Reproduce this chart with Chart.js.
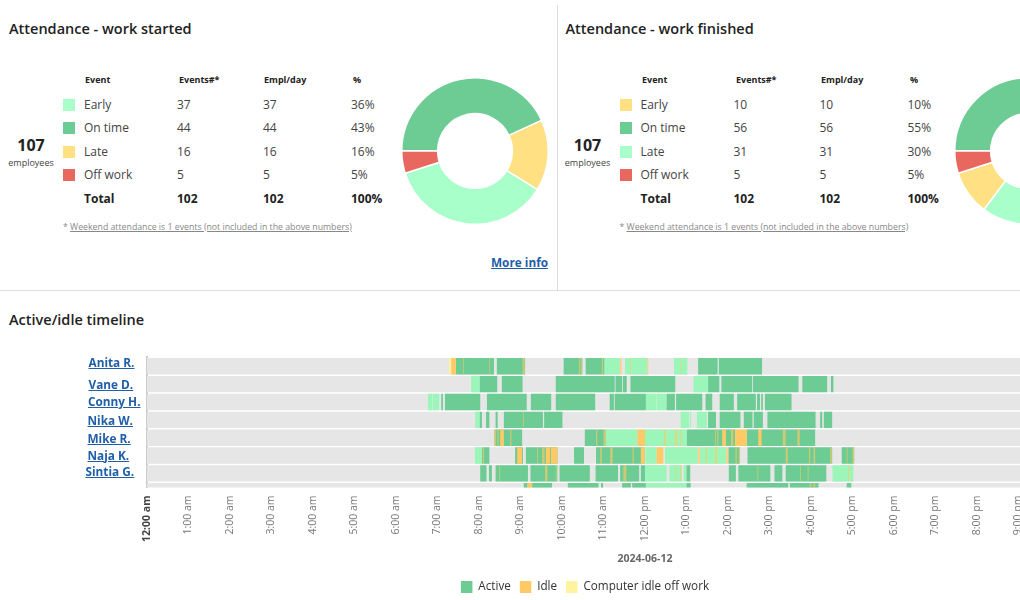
<!DOCTYPE html>
<html>
<head>
<meta charset="utf-8">
<script src="https://cdn.jsdelivr.net/npm/chart.js@4"></script>
<style>
  html, body { margin: 0; width: 1020px; height: 600px; overflow: hidden; background: #fff; font-family: "Open Sans", sans-serif; color: #333; }
  .panel span, .panel i { position: absolute; white-space: nowrap; }
  h2 { position: absolute; margin: 0; font-size: 14.5px; line-height: 20px; font-weight: 600; color: #222; }
  .panel { position: absolute; top: 0; width: 556px; height: 290px; }
  .panel .head { font-size: 9px; font-weight: 700; line-height: 12px; color: #222; top: 74px; }
  .panel .cell { font-size: 12px; line-height: 16px; color: #444; }
  .panel .total { font-size: 12px; line-height: 16px; font-weight: 700; color: #222; }
  .panel i { width: 12px; height: 12px; left: 63px; }
  .panel .big { font-size: 16px; font-weight: 700; color: #222; line-height: 22px; width: 62px; text-align: center; left: 0; top: 134px; }
  .panel .sub { font-size: 9px; color: #444; line-height: 14px; width: 62px; text-align: center; left: 0; top: 156px; }
  .panel .note { font-size: 8.75px; color: #888; line-height: 14px; left: 63px; top: 219.5px; }
  .note u { color: #888; }
  a { color: #1f5ea8; font-weight: 700; text-decoration: underline; }
  #more { position: absolute; left: 491px; top: 253px; font-size: 11.8px; line-height: 18px; }
  .vline { position: absolute; left: 557px; top: 5px; width: 1px; height: 285px; background: #ddd; }
  .hline { position: absolute; left: 0; top: 290px; width: 1020px; height: 1px; background: #ddd; }
  .name { position: absolute; font-size: 11.8px; line-height: 16px; }
  canvas { position: absolute; }
</style>
</head>
<body>
<div class="panel" id="started" style="left:0"></div>
<div class="panel" id="finished" style="left:556.5px"></div>
<canvas id="donut1" width="148" height="148" style="left:400.5px;top:77px"></canvas>
<canvas id="donut2" width="148" height="148" style="left:954px;top:77px"></canvas>
<div class="vline"></div>
<div class="hline"></div>
<h2 style="left:9px;top:309.5px">Active/idle timeline</h2>
<canvas id="timeline" width="1197" height="266" style="left:0;top:340px"></canvas>
<div id="names"></div>
<script>
const eventNames = ['Early', 'On time', 'Late', 'Off work'];
const startedCounts = [37, 44, 16, 5];
const startedPct = ['36%', '43%', '16%', '5%'];
const startedColors = ['#a8ffc9', '#6ccc94', '#ffe083', '#e8685f'];
const finishedCounts = [10, 56, 31, 5];
const finishedPct = ['10%', '55%', '30%', '5%'];
const finishedColors = ['#ffe083', '#6ccc94', '#a8ffc9', '#e8685f'];
const donutOrder = [1, 2, 0, 3];

const employees = ['Anita R.', 'Vane D.', 'Conny H.', 'Nika W.', 'Mike R.', 'Naja K.', 'Sintia G.'];
const nameLeft = [88.5, 88.5, 88, 87.5, 87.5, 87.5, 85.5];
const nameTop = [354, 375.5, 393, 411.5, 429.5, 446.5, 462.5];

// hours since midnight, [start, end]
const anitaActive = [[7.44,8.36],[8.43,9.11],[10.04,10.49],[10.57,11.02],[13.28,13.75],[13.78,14.82]];
const anitaLight = [[11.02,11.39],[11.52,12.05],[12.70,13.02]];
const anitaIdle = [[7.33,7.44],[7.62,7.64],[8.25,8.27],[9.05,9.10],[10.41,10.44],[10.46,10.48],[10.96,10.99],[11.39,11.44],[11.64,11.66],[12.05,12.08],[12.86,12.88]];
const anitaOff = [[7.28,7.33]];

const vaneActive = [[8.02,8.44],[8.55,9.05],[9.85,11.27],[11.29,11.45],[11.47,11.56],[11.65,12.73],[13.52,13.79],[13.84,14.58],[14.60,15.70],[15.79,16.39],[16.48,16.54]];
const vaneLight = [[7.81,8.02],[13.17,13.52]];

const connyActive = [[7.09,7.13],[7.18,8.03],[8.19,9.15],[9.25,9.74],[9.85,10.80],[11.15,11.25],[11.27,12.02],[12.52,12.72],[12.75,13.38],[13.46,13.62],[13.80,14.14],[14.22,14.67],[14.70,14.77],[14.80,14.84],[14.89,15.53]];
const connyLight = [[6.77,6.87],[6.88,7.04],[12.02,12.27],[12.28,12.51]];

const nikaActive = [[8.02,8.07],[8.17,8.25],[8.40,8.45],[8.60,9.54],[9.57,10.01],[13.52,13.71],[13.80,14.30],[14.38,14.59],[14.62,14.84],[14.95,16.11],[16.22,16.27],[16.31,16.51]];
const nikaLight = [[7.91,8.02],[12.86,13.06],[13.08,13.11],[13.25,13.49]];
const nikaIdle = [[9.06,9.08]];

const mikeActive = [[8.37,9.04],[10.55,11.06],[13.01,14.17],[14.45,16.10]];
const mikeLight = [[11.06,11.82],[12.00,13.01]];
const mikeIdle = [[8.37,8.41],[8.44,8.47],[8.51,8.60],[8.75,8.78],[10.82,10.85],[11.00,11.06],[11.82,12.00],[12.46,12.51],[12.72,12.78],[12.85,12.88],[13.69,13.71],[13.74,13.77],[13.86,13.95],[14.07,14.13],[14.17,14.45],[14.73,14.81],[15.32,15.39],[15.67,15.73]];

const najaActive = [[8.07,8.25],[8.87,9.06],[9.13,9.89],[10.29,10.53],[10.82,11.99],[14.01,14.29],[14.47,16.51],[16.74,17.04]];
const najaLight = [[7.90,8.07],[12.01,12.28],[12.48,13.27],[13.33,13.95]];
const najaIdle = [[8.09,8.12],[8.92,9.04],[9.40,9.42],[9.52,9.58],[9.61,9.71],[9.73,9.89],[10.92,10.96],[11.16,11.22],[11.70,11.73],[11.90,11.99],[12.28,12.44],[13.27,13.33],[13.46,13.49],[13.69,13.74],[13.95,14.01],[14.18,14.21],[14.26,14.29],[15.39,15.44],[15.95,15.98],[16.06,16.10],[16.46,16.50],[16.86,16.88],[17.00,17.04]];

const sintiaActive = [[8.03,8.18],[8.24,8.31],[8.40,9.18],[9.24,9.89],[9.94,10.67],[10.81,11.35],[11.40,11.86],[11.90,12.00],[13.00,13.09],[14.02,14.19],[14.25,15.02],[15.12,15.31],[15.39,16.37]];
const sintiaLight = [[12.00,12.52],[12.59,12.89],[12.93,13.00],[16.52,17.02]];
const sintiaIdle = [[8.49,8.51],[9.59,9.65],[9.85,9.87],[11.48,11.55],[12.74,12.76],[12.85,12.88],[14.71,14.73],[15.74,15.76],[15.92,15.94],[16.89,16.92]];

// eighth row is cut off by the bottom of the plot in the original
const cutRowActive = [[9.08,9.17],[9.28,9.76],[10.14,10.88],[10.94,10.99],[11.45,11.66],[11.69,12.02],[13.00,13.10],[14.45,15.45],[15.49,15.97],[15.97,16.18],[16.86,16.97]];
const cutRowLight = [[12.02,13.00]];
const cutRowIdle = [[9.17,9.28],[15.98,16.01],[16.06,16.10]];

const activeRows = [anitaActive, vaneActive, connyActive, nikaActive, mikeActive, najaActive, sintiaActive, cutRowActive];
const lightRows = [anitaLight, vaneLight, connyLight, nikaLight, mikeLight, najaLight, sintiaLight, cutRowLight];
const idleRows = [anitaIdle, [], [], nikaIdle, mikeIdle, najaIdle, sintiaIdle, cutRowIdle];
const offRows = [anitaOff, [], [], [], [], [], [], []];

function renderPanel(id, title, counts, pct, colors) {
  const rowTops = [96.5, 120, 143.5, 166.5];
  const dx = id === 'finished' ? 0.5 : 0;
  let html = `<h2 style="left:9px;top:18.5px">${title}</h2>
    <span class="big">107</span><span class="sub">employees</span>
    <span class="head" style="left:${85 + dx}px">Event</span>
    <span class="head" style="left:${179 + dx}px">Events#*</span>
    <span class="head" style="left:${264 + dx}px">Empl/day</span>
    <span class="head" style="left:${353 + dx}px">%</span>`;
  eventNames.forEach((name, i) => {
    const top = rowTops[i];
    html += `<i style="top:${top + 2}px;background:${colors[i]}"></i>
      <span class="cell" style="left:84px;top:${top}px">${name}</span>
      <span class="cell" style="left:177px;top:${top}px">${counts[i]}</span>
      <span class="cell" style="left:263px;top:${top}px">${counts[i]}</span>
      <span class="cell" style="left:351px;top:${top}px">${pct[i]}</span>`;
  });
  const sum = counts.reduce((a, b) => a + b, 0);
  html += `<span class="total" style="left:84px;top:190.5px">Total</span>
    <span class="total" style="left:177px;top:190.5px">${sum}</span>
    <span class="total" style="left:263px;top:190.5px">${sum}</span>
    <span class="total" style="left:351px;top:190.5px">100%</span>
    <span class="note">* <u>Weekend attendance is 1 events (not included in the above numbers)</u></span>`;
  document.getElementById(id).innerHTML = html;
}

renderPanel('started', 'Attendance - work started', startedCounts, startedPct, startedColors);
renderPanel('finished', 'Attendance - work finished', finishedCounts, finishedPct, finishedColors);
document.getElementById('started').insertAdjacentHTML('beforeend', '<a id="more" href="#">More info</a>');

document.getElementById('names').innerHTML = employees.map((n, i) =>
  `<a class="name" href="#" style="left:${nameLeft[i]}px;top:${nameTop[i]}px">${n}</a>`).join('');

function donut(id, counts, colors) {
  new Chart(document.getElementById(id), {
    type: 'doughnut',
    data: {
      labels: donutOrder.map(i => eventNames[i]),
      datasets: [{
        data: donutOrder.map(i => counts[i]),
        backgroundColor: donutOrder.map(i => colors[i]),
        borderColor: '#fff',
        borderWidth: 1.5,
        hoverOffset: 0
      }]
    },
    options: {
      responsive: false,
      animation: false,
      rotation: -90,
      cutout: '51%',
      plugins: { legend: { display: false }, tooltip: { enabled: false } }
    }
  });
}
donut('donut1', startedCounts, startedColors);
donut('donut2', finishedCounts, finishedColors);

function spans(rows) {
  const out = [];
  rows.forEach((row, r) => row.forEach(s => out.push({ x: s, y: r })));
  return out;
}

// thin idle stripes look washed out in the original
function idleColor(ctx) {
  const s = ctx.raw && ctx.raw.x;
  return s && s[1] - s[0] < 0.08 ? 'rgba(255, 201, 102, 0.65)' : '#ffc966';
}

const barOpts = { barThickness: 16.4, inflateAmount: 0, borderWidth: 0 };

new Chart(document.getElementById('timeline'), {
  type: 'bar',
  data: {
    datasets: [
      { label: 'Active', data: spans(activeRows), backgroundColor: '#6ccc94', order: 3, ...barOpts },
      { label: 'Idle', data: spans(idleRows), backgroundColor: idleColor, order: 1, ...barOpts },
      { label: 'Computer idle off work', data: spans(offRows), backgroundColor: '#fff3a0', order: 2, ...barOpts },
      { label: 'Active off work', data: spans(lightRows), backgroundColor: '#9cf6ba', order: 4, ...barOpts },
      { label: 'Row', data: [0, 1, 2, 3, 4, 5, 6, 7].map(r => ({ x: [0, 24], y: r })), backgroundColor: '#e6e6e6', order: 5, ...barOpts }
    ]
  },
  options: {
    indexAxis: 'y',
    responsive: false,
    animation: false,
    layout: { padding: { top: 17.4, left: 27, right: 54, bottom: 3 } },
    datasets: { bar: { grouped: false } },
    scales: {
      x: {
        type: 'linear',
        min: 0,
        max: 24,
        grid: { display: false },
        border: { display: false },
        ticks: {
          stepSize: 1,
          autoSkip: false,
          minRotation: 90,
          maxRotation: 90,
          padding: 0,
          callback: h => `${h % 12 || 12}:00 ${h < 12 ? 'am' : 'pm'}`,
          color: ctx => ctx.tick && ctx.tick.value === 0 ? '#444' : '#777',
          font: ctx => ({ family: 'Open Sans', size: 10.5, weight: ctx.tick && ctx.tick.value === 0 ? 'bold' : 'normal' })
        },
        title: {
          display: true,
          text: '2024-06-12',
          color: '#666',
          font: { family: 'Open Sans', size: 10.5, weight: 'bold' },
          padding: { top: 10.5, bottom: 7 }
        }
      },
      y: {
        type: 'linear',
        reverse: true,
        offset: false,
        min: -0.5,
        max: 6.79,
        grid: { display: false },
        border: { color: '#ccc', width: 2 },
        ticks: { display: false },
        afterFit: s => { s.width = 120; }
      }
    },
    plugins: {
      tooltip: { enabled: false },
      legend: {
        position: 'bottom',
        labels: {
          boxWidth: 11.5,
          boxHeight: 12,
          padding: 9,
          color: '#333',
          font: { family: 'Open Sans', size: 11.7 },
          sort: (a, b) => a.datasetIndex - b.datasetIndex,
          filter: item => item.text !== 'Row' && item.text !== 'Active off work'
        }
      }
    }
  }
});
</script>
</body>
</html>
